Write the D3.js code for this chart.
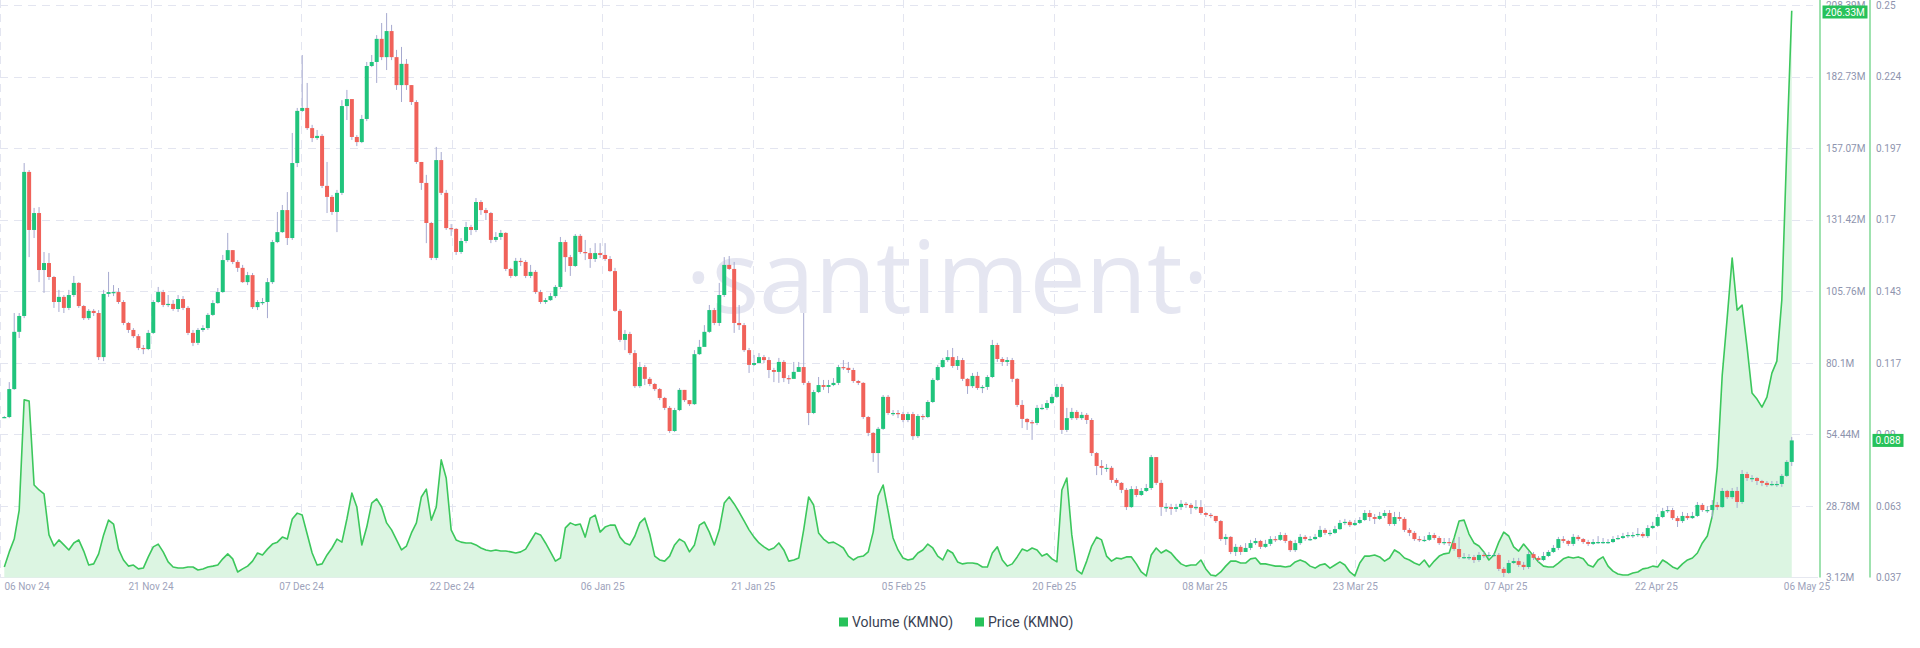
<!DOCTYPE html>
<html><head><meta charset="utf-8">
<script src="https://cdn.jsdelivr.net/npm/d3@7"></script>
<style>
html,body{margin:0;padding:0;background:#fff;}
svg{display:block;}
text{font-family:Roboto,"Noto Sans",Arial,sans-serif;}
</style></head><body>
<svg id="chart" width="1920" height="648"></svg>
<script>
// ---------------- DATA ----------------
const firstCandle = "2024-11-06T00:00:00Z";   // 12h candles
const candleHours = 12;
const axisStart = "2024-11-05T13:36:00Z";
const axisEnd   = "2025-05-06T11:26:00Z";
const xTickLabels = ["06 Nov 24","21 Nov 24","07 Dec 24","22 Dec 24","06 Jan 25","21 Jan 25","05 Feb 25","20 Feb 25","08 Mar 25","23 Mar 25","07 Apr 25","22 Apr 25","06 May 25"];
const priceTickLabels  = ["0.037","0.063","0.09","0.117","0.143","0.17","0.197","0.224","0.25"];
const volumeTickLabels = ["3.12M","28.78M","54.44M","80.1M","105.76M","131.42M","157.07M","182.73M","208.39M"];
const priceDomain  = [0.037, 0.25];
const volumeDomain = [3.12, 208.39];   // millions
const seriesNames = ["Volume (KMNO)", "Price (KMNO)"];
const firstOpen = 0.0967;

const closes = [
0.0967,0.1071,0.1284,0.1343,0.1879,0.1663,0.1726,0.1514,0.1540,0.1488,
0.1395,0.1414,0.1373,0.1421,0.1466,0.1380,0.1335,0.1362,0.1354,0.1190,
0.1425,0.1432,0.1432,0.1395,0.1317,0.1291,0.1268,0.1224,0.1220,0.1280,
0.1395,0.1432,0.1384,0.1388,0.1369,0.1406,0.1373,0.1280,0.1243,0.1291,
0.1298,0.1347,0.1391,0.1432,0.1551,0.1588,0.1544,0.1522,0.1469,0.1495,
0.1376,0.1395,0.1395,0.1469,0.1618,0.1655,0.1737,0.1633,0.1912,0.2106,
0.2117,0.2042,0.2005,0.2013,0.1827,0.1786,0.1730,0.1801,0.2124,0.2150,
0.2009,0.1990,0.2076,0.2273,0.2288,0.2374,0.2306,0.2403,0.2306,0.2202,
0.2281,0.2202,0.2139,0.1916,0.1838,0.1689,0.1559,0.1923,0.1801,0.1670,
0.1667,0.1581,0.1622,0.1674,0.1663,0.1767,0.1737,0.1726,0.1626,0.1637,
0.1652,0.1518,0.1492,0.1548,0.1544,0.1492,0.1507,0.1432,0.1395,0.1402,
0.1417,0.1451,0.1618,0.1562,0.1529,0.1641,0.1581,0.1577,0.1555,0.1577,
0.1570,0.1555,0.1510,0.1362,0.1254,0.1276,0.1205,0.1082,0.1153,0.1109,
0.1090,0.1071,0.1038,0.1001,0.0915,0.0993,0.1068,0.1030,0.1015,0.1201,
0.1228,0.1284,0.1365,0.1317,0.1421,0.1533,0.1518,0.1317,0.1309,0.1216,
0.1161,0.1168,0.1190,0.1179,0.1142,0.1135,0.1172,0.1112,0.1109,0.1135,
0.1153,0.1094,0.0982,0.1060,0.1086,0.1079,0.1086,0.1094,0.1153,0.1150,
0.1142,0.1101,0.1094,0.0967,0.0908,0.0833,0.0923,0.1042,0.0982,0.0982,
0.0978,0.0956,0.0978,0.0896,0.0971,0.0967,0.1023,0.1105,0.1153,0.1179,
0.1190,0.1157,0.1179,0.1109,0.1082,0.1120,0.1075,0.1079,0.1116,0.1235,
0.1183,0.1172,0.1179,0.1109,0.1012,0.0960,0.0948,0.0945,0.1001,0.1001,
0.1019,0.1042,0.1079,0.0919,0.0963,0.0986,0.0963,0.0975,0.0956,0.0833,
0.0785,0.0778,0.0778,0.0733,0.0722,0.0696,0.0632,0.0699,0.0677,0.0692,
0.0703,0.0818,0.0722,0.0632,0.0632,0.0625,0.0632,0.0644,0.0640,0.0629,
0.0632,0.0610,0.0603,0.0599,0.0580,0.0513,0.0521,0.0465,0.0484,0.0465,
0.0480,0.0498,0.0506,0.0484,0.0495,0.0513,0.0510,0.0528,0.0506,0.0472,
0.0498,0.0521,0.0513,0.0513,0.0521,0.0547,0.0536,0.0536,0.0550,0.0573,
0.0577,0.0565,0.0573,0.0584,0.0610,0.0595,0.0588,0.0599,0.0610,0.0569,
0.0595,0.0588,0.0547,0.0536,0.0513,0.0510,0.0510,0.0528,0.0517,0.0498,
0.0502,0.0498,0.0476,0.0446,0.0446,0.0446,0.0435,0.0454,0.0450,0.0454,
0.0454,0.0402,0.0387,0.0424,0.0431,0.0417,0.0409,0.0457,0.0443,0.0435,
0.0450,0.0465,0.0480,0.0513,0.0506,0.0495,0.0521,0.0513,0.0502,0.0495,
0.0502,0.0502,0.0502,0.0502,0.0513,0.0517,0.0524,0.0528,0.0528,0.0532,
0.0524,0.0554,0.0562,0.0595,0.0617,0.0621,0.0591,0.0580,0.0599,0.0591,
0.0599,0.0640,0.0621,0.0621,0.0640,0.0632,0.0692,0.0669,0.0692,0.0651,
0.0755,0.0740,0.0740,0.0729,0.0722,0.0714,0.0718,0.0718,0.0748,0.0800,0.0880];

const highs = [
0.0971,0.1097,0.1354,0.1354,0.1912,0.1886,0.1745,0.1748,0.1581,0.1577,
0.1492,0.1440,0.1421,0.1440,0.1492,0.1469,0.1384,0.1369,0.1369,0.1365,
0.1440,0.1507,0.1458,0.1447,0.1402,0.1321,0.1298,0.1276,0.1235,0.1291,
0.1402,0.1451,0.1440,0.1421,0.1402,0.1421,0.1417,0.1380,0.1291,0.1298,
0.1309,0.1354,0.1402,0.1447,0.1570,0.1652,0.1588,0.1551,0.1533,0.1507,
0.1503,0.1402,0.1410,0.1484,0.1626,0.1730,0.1756,0.1804,0.2024,0.2117,
0.2314,0.2210,0.2054,0.2035,0.2020,0.1916,0.1793,0.1812,0.2146,0.2184,
0.2146,0.2016,0.2091,0.2288,0.2314,0.2388,0.2433,0.2470,0.2426,0.2333,
0.2344,0.2299,0.2202,0.2146,0.1916,0.1868,0.1693,0.1972,0.1953,0.1812,
0.1685,0.1670,0.1633,0.1693,0.1682,0.1782,0.1774,0.1745,0.1730,0.1655,
0.1663,0.1655,0.1522,0.1559,0.1559,0.1551,0.1533,0.1514,0.1440,0.1410,
0.1429,0.1458,0.1637,0.1626,0.1570,0.1648,0.1648,0.1626,0.1596,0.1614,
0.1614,0.1614,0.1566,0.1522,0.1369,0.1291,0.1284,0.1216,0.1172,0.1161,
0.1116,0.1094,0.1075,0.1042,0.1008,0.1001,0.1075,0.1068,0.1030,0.1216,
0.1254,0.1309,0.1384,0.1373,0.1466,0.1562,0.1566,0.1544,0.1384,0.1317,
0.1224,0.1198,0.1205,0.1198,0.1190,0.1150,0.1187,0.1179,0.1123,0.1172,
0.1172,0.1354,0.1101,0.1068,0.1116,0.1105,0.1105,0.1112,0.1161,0.1179,
0.1172,0.1150,0.1105,0.1097,0.0971,0.0911,0.0930,0.1049,0.1049,0.0993,
0.0993,0.0986,0.0986,0.0986,0.0978,0.0978,0.1030,0.1112,0.1161,0.1187,
0.1216,0.1224,0.1194,0.1187,0.1112,0.1131,0.1135,0.1086,0.1123,0.1254,
0.1243,0.1190,0.1190,0.1187,0.1112,0.1030,0.0963,0.0956,0.1012,0.1015,
0.1030,0.1053,0.1090,0.1090,0.1001,0.1001,0.0993,0.0986,0.0982,0.0963,
0.0837,0.0807,0.0792,0.0785,0.0740,0.0725,0.0703,0.0710,0.0710,0.0703,
0.0718,0.0826,0.0818,0.0733,0.0647,0.0644,0.0644,0.0658,0.0651,0.0647,
0.0658,0.0658,0.0614,0.0610,0.0599,0.0584,0.0532,0.0524,0.0495,0.0491,
0.0498,0.0510,0.0517,0.0510,0.0510,0.0524,0.0524,0.0539,0.0536,0.0510,
0.0510,0.0532,0.0528,0.0524,0.0532,0.0562,0.0554,0.0547,0.0562,0.0584,
0.0588,0.0584,0.0584,0.0595,0.0621,0.0621,0.0606,0.0614,0.0621,0.0621,
0.0614,0.0614,0.0595,0.0554,0.0543,0.0524,0.0524,0.0539,0.0536,0.0524,
0.0517,0.0517,0.0510,0.0521,0.0461,0.0457,0.0454,0.0465,0.0465,0.0465,
0.0461,0.0461,0.0409,0.0435,0.0443,0.0443,0.0428,0.0469,0.0465,0.0450,
0.0465,0.0472,0.0491,0.0521,0.0524,0.0510,0.0532,0.0528,0.0517,0.0510,
0.0513,0.0524,0.0517,0.0513,0.0524,0.0528,0.0536,0.0539,0.0539,0.0554,
0.0539,0.0565,0.0577,0.0606,0.0629,0.0636,0.0629,0.0599,0.0614,0.0610,
0.0614,0.0651,0.0647,0.0636,0.0658,0.0651,0.0703,0.0696,0.0703,0.0707,
0.0770,0.0763,0.0751,0.0744,0.0733,0.0729,0.0729,0.0729,0.0755,0.0807,0.0893];

const lows = [
0.0963,0.0963,0.1068,0.1261,0.1335,0.1562,0.1633,0.1469,0.1429,0.1477,
0.1373,0.1358,0.1354,0.1365,0.1414,0.1373,0.1328,0.1328,0.1343,0.1179,
0.1175,0.1414,0.1417,0.1388,0.1309,0.1280,0.1261,0.1216,0.1201,0.1216,
0.1276,0.1391,0.1376,0.1376,0.1362,0.1358,0.1365,0.1272,0.1231,0.1235,
0.1284,0.1291,0.1343,0.1388,0.1429,0.1544,0.1536,0.1507,0.1466,0.1458,
0.1369,0.1365,0.1384,0.1335,0.1462,0.1614,0.1652,0.1607,0.1626,0.1897,
0.2102,0.2035,0.1990,0.1998,0.1819,0.1726,0.1719,0.1655,0.1793,0.2072,
0.1998,0.1975,0.1986,0.2068,0.2269,0.2210,0.2295,0.2258,0.2295,0.2184,
0.2139,0.2184,0.2128,0.1909,0.1812,0.1614,0.1551,0.1551,0.1793,0.1663,
0.1641,0.1570,0.1574,0.1614,0.1644,0.1655,0.1719,0.1700,0.1614,0.1618,
0.1626,0.1510,0.1484,0.1488,0.1529,0.1484,0.1484,0.1425,0.1388,0.1388,
0.1399,0.1410,0.1443,0.1507,0.1492,0.1525,0.1574,0.1551,0.1522,0.1544,
0.1559,0.1548,0.1507,0.1358,0.1246,0.1216,0.1198,0.1075,0.1075,0.1086,
0.1082,0.1064,0.1030,0.0993,0.0908,0.0911,0.0989,0.1023,0.1008,0.1012,
0.1198,0.1243,0.1280,0.1309,0.1306,0.1414,0.1514,0.1280,0.1291,0.1209,
0.1131,0.1157,0.1172,0.1168,0.1112,0.1097,0.1094,0.1097,0.1090,0.1123,
0.1142,0.1086,0.0937,0.0978,0.1056,0.1068,0.1056,0.1082,0.1086,0.1142,
0.1131,0.1094,0.1086,0.0960,0.0896,0.0800,0.0759,0.0919,0.0975,0.0971,
0.0963,0.0948,0.0948,0.0882,0.0889,0.0956,0.0963,0.1019,0.1101,0.1150,
0.1172,0.1150,0.1142,0.1101,0.1053,0.1075,0.1068,0.1056,0.1068,0.1112,
0.1172,0.1157,0.1157,0.1097,0.1004,0.0926,0.0919,0.0882,0.0937,0.0993,
0.0993,0.1015,0.1038,0.0904,0.0911,0.0956,0.0956,0.0956,0.0941,0.0822,
0.0751,0.0751,0.0763,0.0722,0.0710,0.0684,0.0621,0.0629,0.0669,0.0673,
0.0688,0.0696,0.0714,0.0599,0.0614,0.0603,0.0614,0.0621,0.0629,0.0606,
0.0621,0.0603,0.0595,0.0591,0.0573,0.0506,0.0491,0.0457,0.0450,0.0454,
0.0465,0.0472,0.0491,0.0476,0.0480,0.0487,0.0502,0.0506,0.0498,0.0465,
0.0465,0.0491,0.0506,0.0506,0.0510,0.0517,0.0528,0.0524,0.0532,0.0547,
0.0565,0.0558,0.0562,0.0569,0.0580,0.0580,0.0569,0.0584,0.0591,0.0562,
0.0562,0.0580,0.0539,0.0524,0.0506,0.0502,0.0502,0.0506,0.0510,0.0491,
0.0491,0.0487,0.0469,0.0439,0.0439,0.0435,0.0424,0.0428,0.0443,0.0443,
0.0446,0.0394,0.0372,0.0383,0.0420,0.0409,0.0398,0.0402,0.0435,0.0428,
0.0431,0.0446,0.0461,0.0472,0.0498,0.0487,0.0487,0.0506,0.0495,0.0487,
0.0491,0.0495,0.0495,0.0495,0.0498,0.0510,0.0513,0.0517,0.0517,0.0521,
0.0517,0.0517,0.0550,0.0558,0.0591,0.0610,0.0584,0.0558,0.0573,0.0584,
0.0588,0.0595,0.0614,0.0610,0.0591,0.0621,0.0629,0.0662,0.0662,0.0629,
0.0644,0.0729,0.0725,0.0714,0.0710,0.0707,0.0710,0.0707,0.0707,0.0744,0.0785];

const volumesM = [
6.9,12.3,16.9,27.3,66.8,66.4,36.3,34.5,33.1,18.4,
14.4,16.6,14.8,13.0,15.5,16.6,12.6,7.6,8.0,11.6,
18.4,23.7,22.3,13.3,9.4,7.2,7.6,6.2,6.5,10.5,
14.1,15.1,12.3,8.7,6.9,6.5,6.5,6.9,6.9,5.8,
6.2,6.9,7.2,7.6,9.8,11.6,9.8,5.1,6.2,7.2,
9.0,11.9,11.2,13.3,15.1,15.8,17.6,16.9,24.1,26.2,
25.5,18.7,11.9,7.6,8.0,11.2,13.7,16.9,15.8,24.1,
33.4,28.4,14.8,21.2,29.8,31.3,28.4,22.7,20.2,16.6,
13.0,14.4,19.1,22.7,32.0,34.8,23.7,28.4,45.3,38.8,
20.2,16.6,15.8,15.5,15.5,14.8,13.7,13.0,12.6,13.0,
12.6,12.6,12.3,11.9,12.3,13.3,16.2,19.1,18.4,15.5,
12.3,9.0,10.1,20.9,22.7,21.9,22.3,17.6,24.4,25.5,
19.4,21.2,21.9,21.9,17.6,15.5,14.8,18.0,22.7,24.4,
18.7,10.8,9.4,9.0,10.8,14.8,16.9,15.8,12.3,14.8,
21.9,23.0,19.4,14.8,20.2,29.8,32.0,29.5,26.6,23.4,
20.2,17.6,15.5,14.1,13.0,13.7,15.5,13.0,9.0,9.4,
10.1,20.2,32.0,29.1,19.1,16.9,15.5,15.8,14.8,13.7,
10.8,9.4,10.5,10.8,12.3,19.4,32.4,36.3,27.0,17.3,
13.0,10.1,9.4,9.8,11.9,13.0,15.1,13.7,10.8,9.4,
13.0,11.9,8.7,8.0,8.3,8.3,8.0,6.9,6.9,11.9,
14.1,9.4,7.2,8.0,10.5,13.3,12.6,13.7,13.0,10.8,
11.6,9.8,8.7,34.5,38.8,18.4,5.8,4.4,9.0,14.4,
17.6,16.6,10.8,9.0,10.1,9.8,10.5,10.5,8.0,5.1,
3.7,11.2,13.7,11.9,13.0,11.9,9.8,8.0,7.2,7.6,
7.6,9.4,6.2,4.0,3.7,5.1,7.2,9.0,9.0,8.3,
8.3,9.8,10.1,8.0,8.0,7.6,7.2,7.2,6.9,7.2,
8.7,9.4,8.7,7.2,6.5,7.6,8.0,6.5,7.6,8.7,
7.6,5.1,3.7,8.3,10.8,10.8,11.2,10.5,9.0,10.1,
13.0,11.9,10.1,9.4,8.3,7.6,9.4,6.9,9.0,10.8,
11.6,11.9,17.3,23.4,23.7,18.7,15.5,14.4,12.3,9.4,
11.2,15.8,19.4,18.0,14.1,12.6,15.1,13.0,10.8,8.7,
7.2,6.9,6.9,8.3,9.8,10.5,10.1,10.5,9.8,7.6,
6.9,9.4,10.5,7.2,5.4,4.4,4.0,4.0,4.7,5.1,
6.2,6.5,7.2,6.9,9.4,8.3,6.9,6.2,8.0,9.4,
10.1,11.9,15.5,18.0,25.2,42.7,75.7,96.2,117.7,99.0,
100.8,85.8,69.3,67.1,64.2,67.8,76.4,80.7,102.6,156.8,206.33];

// ---------------- CHART ----------------
const svg = d3.select("#chart");
const plotRight = 1806.4, gridRight = 1813, yTop = 5, yBottom = 577.5;
const volAxisX = 1820, priceAxisX = 1870;

const x = d3.scaleUtc().domain([new Date(axisStart), new Date(axisEnd)]).range([0, plotRight]);
const yP = d3.scaleLinear().domain(priceDomain).range([yBottom, yTop]);
const yV = d3.scaleLinear().domain(volumeDomain).range([yBottom, yTop]);

const t0 = new Date(firstCandle).getTime();
const data = closes.map((c, i) => ({
  date: new Date(t0 + i * candleHours * 3600e3),
  open: i ? closes[i - 1] : firstOpen,
  close: c, high: highs[i], low: lows[i], vol: volumesM[i]
}));

const nT = xTickLabels.length;
const d0 = x.domain()[0].getTime(), d1 = x.domain()[1].getTime();
const tickDates = d3.range(nT).map(k => new Date(d0 + k * (d1 - d0) / (nT - 1)));
const priceTicks = d3.range(priceTickLabels.length).map(k => priceDomain[0] + k * (priceDomain[1] - priceDomain[0]) / (priceTickLabels.length - 1));
const volTicks = d3.range(volumeTickLabels.length).map(k => volumeDomain[0] + k * (volumeDomain[1] - volumeDomain[0]) / (volumeTickLabels.length - 1));

// grid
const grid = svg.append("g").attr("stroke", "#e3e5f0").attr("stroke-width", 1).attr("stroke-dasharray", "8,6");
grid.selectAll("line.h").data(priceTicks.slice(1)).join("line")
  .attr("x1", 0).attr("x2", gridRight)
  .attr("y1", d => Math.round(yP(d)) + 0.5).attr("y2", d => Math.round(yP(d)) + 0.5);
grid.selectAll("line.v").data(tickDates.slice(0, nT - 1)).join("line")
  .attr("x1", d => Math.round(x(d)) + 0.5).attr("x2", d => Math.round(x(d)) + 0.5)
  .attr("y1", 0).attr("y2", yBottom);

// watermark
svg.append("text").attr("x", 947).attr("y", 313).attr("text-anchor", "middle")
  .style("font-family", "'Open Sans', 'Noto Sans', sans-serif").style("font-weight", 400)
  .style("font-size", "100px").attr("fill", "#e5e6f1").text("·santiment·");

// baseline
svg.append("line").attr("x1", 0).attr("x2", 1818).attr("y1", yBottom).attr("y2", yBottom)
  .attr("stroke", "#e6e8f0").attr("stroke-width", 1);

// volume area + line
const area = d3.area().x(d => x(d.date)).y0(yBottom).y1(d => yV(d.vol));
const line = d3.line().x(d => x(d.date)).y(d => yV(d.vol));
svg.append("path").datum(data).attr("d", area).attr("fill", "#dcf5e2");
svg.append("path").datum(data).attr("d", line).attr("fill", "none")
  .attr("stroke", "#3cc75c").attr("stroke-width", 1.6).attr("stroke-linejoin", "round");

// candles
const up = "#20c47c", down = "#f0625a", wick = "#a6a9cf";
const cg = svg.append("g");
cg.selectAll("line").data(data).join("line")
  .attr("x1", d => x(d.date)).attr("x2", d => x(d.date))
  .attr("y1", d => yP(d.high)).attr("y2", d => yP(d.low))
  .attr("stroke", wick).attr("stroke-width", 1);
cg.selectAll("rect").data(data).join("rect")
  .attr("x", d => x(d.date) - 2).attr("width", 4)
  .attr("y", d => yP(Math.max(d.open, d.close)))
  .attr("height", d => Math.max(1.2, Math.abs(yP(d.open) - yP(d.close))))
  .attr("fill", d => d.close >= d.open ? up : down);

// x axis
const xAxis = svg.append("g").attr("transform", `translate(0,${yBottom})`)
  .call(d3.axisBottom(x).tickValues(tickDates).tickFormat((d, i) => xTickLabels[i]).tickSize(0).tickPadding(5));
xAxis.select(".domain").remove();
xAxis.selectAll("text").attr("fill", "#9ea3bb").style("font-size", "10px");
xAxis.select(".tick text").attr("text-anchor", "start").attr("x", 4);

// right axes
const axisColor = "#7fd894";
const vAxis = svg.append("g").attr("transform", `translate(${volAxisX},0)`)
  .call(d3.axisRight(yV).tickValues(volTicks).tickFormat((d, i) => volumeTickLabels[i]).tickSize(0).tickPadding(6));
vAxis.select(".domain").attr("stroke", axisColor).attr("stroke-width", 1.5).attr("d", `M0,0V${yBottom}`);
vAxis.selectAll("text").attr("fill", "#8e94ae").style("font-size", "10px");

const pAxis = svg.append("g").attr("transform", `translate(${priceAxisX},0)`)
  .call(d3.axisRight(yP).tickValues(priceTicks).tickFormat((d, i) => priceTickLabels[i]).tickSize(0).tickPadding(6));
pAxis.select(".domain").attr("stroke", axisColor).attr("stroke-width", 1.5).attr("d", `M0,0V${yBottom}`);
pAxis.selectAll("text").attr("fill", "#8e94ae").style("font-size", "10px");

// current value badges (drawn over the axis labels, as in the reference)
const last = data[data.length - 1];
const badgeGreen = "#27c25a";
function badge(x0, w, yc, label) {
  const g = svg.append("g");
  g.append("rect").attr("x", x0).attr("y", yc - 6.5).attr("width", w).attr("height", 13).attr("fill", badgeGreen);
  g.append("text").attr("x", x0 + w / 2).attr("y", yc).attr("dy", "0.35em").attr("text-anchor", "middle")
    .attr("fill", "#fff").style("font-size", "10px").text(label);
}
badge(volAxisX + 2.5, 45, Math.max(yV(last.vol), 12), d3.format(".2f")(last.vol) + "M");
badge(priceAxisX + 2.5, 31, yP(last.close), d3.format(".3f")(last.close));

// legend
const legend = svg.append("g").attr("transform", "translate(0,622)");
const legX = [839, 975];
seriesNames.forEach((name, i) => {
  legend.append("rect").attr("x", legX[i]).attr("y", -4.5).attr("width", 9).attr("height", 9).attr("fill", badgeGreen);
  legend.append("text").attr("x", legX[i] + 13).attr("y", 0).attr("dy", "0.35em")
    .attr("fill", "#3a3f52").style("font-size", "14px").text(name);
});
</script>
</body></html>
